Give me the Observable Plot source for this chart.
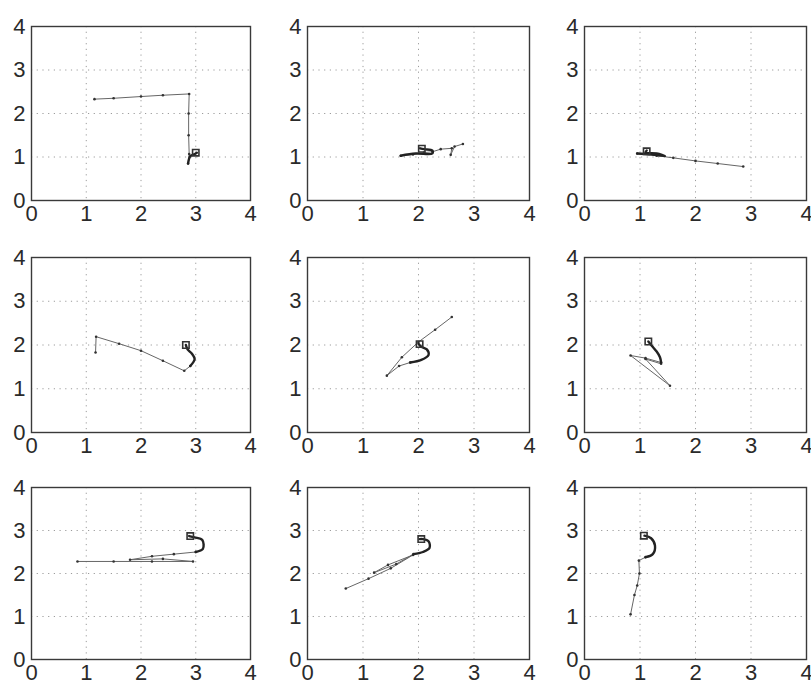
<!DOCTYPE html>
<html>
<head>
<meta charset="utf-8">
<script src="https://cdn.jsdelivr.net/npm/d3@7"></script>
<script src="https://cdn.jsdelivr.net/npm/@observablehq/plot@0.6"></script>
<style>
  html, body { margin: 0; padding: 0; background: #fff; overflow: hidden; }
  #grid { position: relative; width: 811px; height: 690px; }
  #grid svg { position: absolute; }
</style>
</head>
<body>
<div id="grid"></div>
<script>
// Axis ticks shared by every panel
const tickValues = [0, 1, 2, 3, 4];

// Robot paths, one per trial: the travel leg and the final approach
const run1 = [[1.15,2.33],[1.5,2.35],[2.0,2.39],[2.4,2.42],[2.88,2.45],[2.87,2.0],[2.87,1.5],[2.88,1.07],[2.86,0.85]];
const tail1 = [[2.86,0.85],[2.9,1.02],[2.97,1.06],[3.02,1.1]];

const run2 = [[2.8,1.3],[2.65,1.24],[2.58,1.05],[2.6,1.2],[2.4,1.18],[2.25,1.12],[2.1,1.1],[1.9,1.06],[1.68,1.03]];
const tail2 = [[1.68,1.03],[1.95,1.08],[2.25,1.08],[2.25,1.15],[2.1,1.18],[2.03,1.2]];

const run3 = [[2.86,0.78],[2.4,0.85],[2.0,0.91],[1.6,0.98],[1.3,1.03],[0.95,1.08]];
const tail3 = [[0.95,1.08],[1.2,1.06],[1.45,1.02],[1.3,1.08],[1.1,1.1],[1.12,1.15]];

const run4 = [[1.17,1.83],[1.18,2.19],[1.6,2.03],[2.0,1.87],[2.4,1.64],[2.79,1.41],[2.9,1.52]];
const tail4 = [[2.9,1.52],[2.98,1.68],[2.93,1.8],[2.85,1.9],[2.82,2.0]];

const run5 = [[2.6,2.64],[2.3,2.35],[2.0,2.07],[1.7,1.72],[1.43,1.3],[1.65,1.52],[1.85,1.6]];
const tail5 = [[1.85,1.6],[2.05,1.66],[2.18,1.77],[2.15,1.9],[2.05,1.96],[2.0,2.03]];

const run6 = [[1.38,1.57],[1.1,1.68],[1.54,1.07],[0.83,1.76],[1.1,1.7],[1.38,1.6]];
const tail6 = [[1.38,1.6],[1.36,1.72],[1.3,1.85],[1.22,1.97],[1.15,2.08]];

const run7 = [[0.84,2.28],[1.5,2.28],[2.2,2.28],[2.95,2.28],[2.4,2.34],[1.8,2.32],[2.2,2.4],[2.6,2.45],[3.0,2.5]];
const tail7 = [[3.0,2.5],[3.13,2.57],[3.12,2.78],[2.98,2.84],[2.88,2.87]];

const run8 = [[0.69,1.65],[1.1,1.88],[1.5,2.12],[1.9,2.43],[1.45,2.2],[1.2,2.02],[1.6,2.22],[1.91,2.45]];
const tail8 = [[1.91,2.45],[2.08,2.5],[2.2,2.6],[2.18,2.75],[2.08,2.8],[2.02,2.8]];

const run9 = [[0.83,1.05],[0.9,1.5],[0.95,1.72],[0.99,2.0],[0.98,2.3],[1.1,2.38]];
const tail9 = [[1.1,2.38],[1.23,2.45],[1.27,2.65],[1.2,2.82],[1.08,2.88]];

// Goal position reached in each trial
const targets = [[3.0,1.1],[2.06,1.19],[1.12,1.13],[2.82,2.0],[2.02,2.02],[1.15,2.08],[2.9,2.87],[2.05,2.8],[1.07,2.88]];

const runs = [run1, run2, run3, run4, run5, run6, run7, run8, run9];
const tails = [tail1, tail2, tail3, tail4, tail5, tail6, tail7, tail8, tail9];

// Panel frame placement on the page (plot-area left/top and size)
const colLeft = [31, 307, 584];
const colWidth = [219, 222, 222];
const rowTop = [26, 257, 487];
const rowHeight = [174, 175, 172];

const mL = 31, mT = 14, mR = 5, mB = 32;
const container = document.getElementById("grid");

runs.forEach((run, i) => {
  const r = Math.floor(i / 3), c = i % 3;
  const w = colWidth[c], h = rowHeight[r];
  const chart = Plot.plot({
    width: mL + w + mR,
    height: mT + h + mB,
    marginLeft: mL, marginTop: mT, marginRight: mR, marginBottom: mB,
    style: {fontFamily: "'Liberation Sans', Arial, sans-serif", fontSize: "22px", color: "#2a2a2a", background: "transparent", overflow: "visible"},
    x: {domain: [0, 4], ticks: tickValues, label: null},
    y: {domain: [0, 4], ticks: tickValues, label: null},
    marks: [
      Plot.gridX(tickValues.slice(1, -1), {stroke: "#9c9c9c", strokeOpacity: 1, strokeDasharray: "1.2,4.5"}),
      Plot.gridY(tickValues.slice(1, -1), {stroke: "#9c9c9c", strokeOpacity: 1, strokeDasharray: "1.2,4.5"}),
      Plot.frame({stroke: "#3a3a3a", strokeWidth: 1.4}),
      Plot.axisX(tickValues, {tickSize: 0, tickPadding: 5, fontSize: 22}),
      Plot.axisY(tickValues, {tickSize: 0, tickPadding: 6, fontSize: 22}),
      Plot.line(run, {x: d => d[0], y: d => d[1], stroke: "#666", strokeWidth: 1, curve: "linear"}),
      Plot.dot(run, {x: d => d[0], y: d => d[1], r: 1.3, fill: "#333", stroke: "none"}),
      Plot.line(tails[i], {x: d => d[0], y: d => d[1], stroke: "#222", strokeWidth: 2.4, curve: "catmull-rom"}),
      Plot.dot([targets[i]], {x: d => d[0], y: d => d[1], symbol: "square", r: 3.6, fill: "none", stroke: "#333", strokeWidth: 1.6})
    ]
  });
  chart.style.left = (colLeft[c] - mL) + "px";
  chart.style.top = (rowTop[r] - mT) + "px";
  container.appendChild(chart);
});
</script>
</body>
</html>
